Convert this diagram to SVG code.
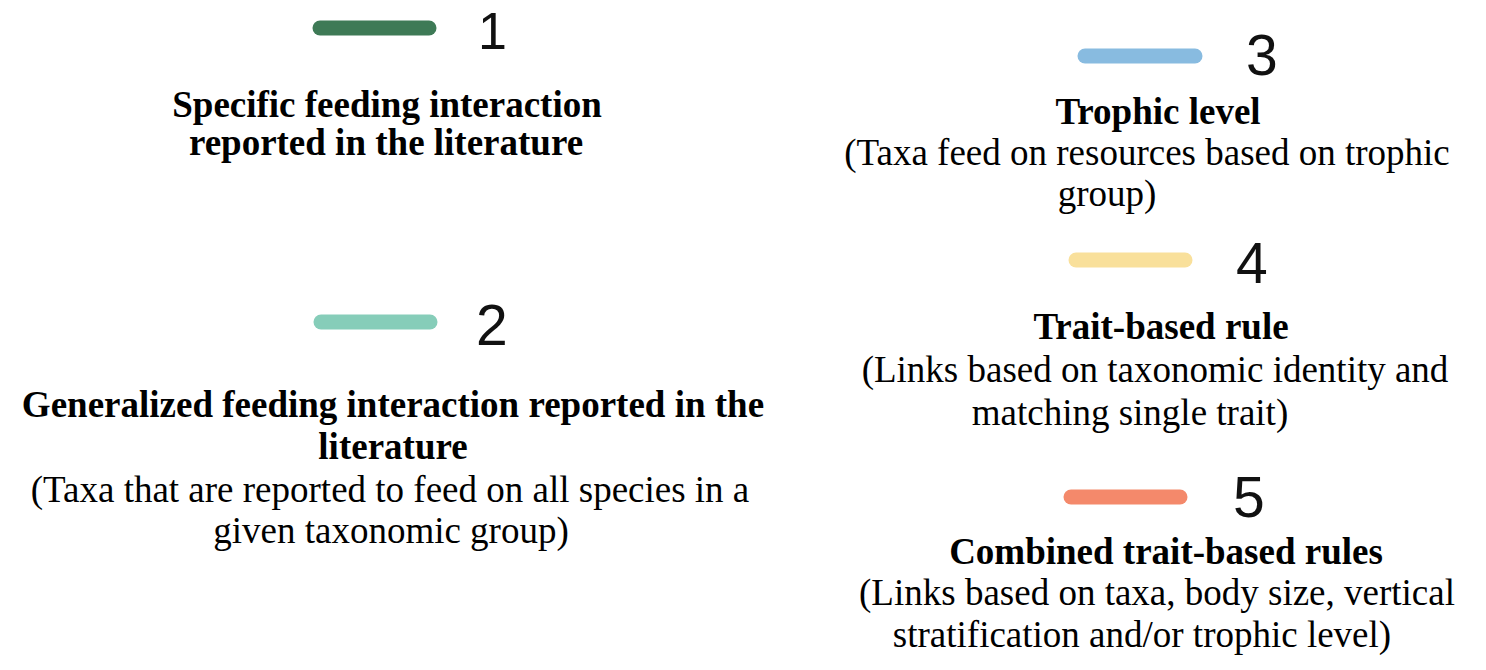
<svg xmlns="http://www.w3.org/2000/svg" width="1486" height="670" viewBox="0 0 1486 670">
<style>
.sw{stroke-width:15;stroke-linecap:round;fill:none}
.num{font-family:"Liberation Sans",Arial,sans-serif;font-size:57px;fill:#111}
.t{font-family:"Liberation Serif","Times New Roman",serif;font-size:37px;fill:#000;text-anchor:middle}
.b{font-weight:bold}
</style>
<rect width="1486" height="670" fill="#fff"/>
<g id="item1">
<line class="sw" x1="320" y1="28" x2="429" y2="28" stroke="#3e7a56"/>
<text class="num" x="478" y="49" style="font-size:52px">1</text>
<text class="t b" x="387" y="117">Specific feeding interaction</text>
<text class="t b" x="386" y="155">reported in the literature</text>
</g>
<g id="item2">
<line class="sw" x1="321" y1="322" x2="430" y2="322" stroke="#86cdb9"/>
<text class="num" x="476" y="345">2</text>
<text class="t b" x="393" y="417">Generalized feeding interaction reported in the</text>
<text class="t b" x="393" y="459">literature</text>
<text class="t" x="390" y="502">(Taxa that are reported to feed on all species in a</text>
<text class="t" x="391" y="543">given taxonomic group)</text>
</g>
<g id="item3">
<line class="sw" x1="1085" y1="56" x2="1195" y2="56" stroke="#88bbe0"/>
<text class="num" x="1246" y="75">3</text>
<text class="t b" x="1158" y="124">Trophic level</text>
<text class="t" x="1147" y="165">(Taxa feed on resources based on trophic</text>
<text class="t" x="1107" y="206">group)</text>
</g>
<g id="item4">
<line class="sw" x1="1076" y1="260" x2="1185" y2="260" stroke="#f9e09b"/>
<text class="num" x="1236" y="283">4</text>
<text class="t b" x="1161" y="339">Trait-based rule</text>
<text class="t" x="1155" y="382">(Links based on taxonomic identity and</text>
<text class="t" x="1130" y="425">matching single trait)</text>
</g>
<g id="item5">
<line class="sw" x1="1071" y1="497" x2="1180" y2="497" stroke="#f4896b"/>
<text class="num" x="1233" y="517">5</text>
<text class="t b" x="1166" y="564">Combined trait-based rules</text>
<text class="t" x="1157" y="605">(Links based on taxa, body size, vertical</text>
<text class="t" x="1142" y="647">stratification and/or trophic level)</text>
</g>
</svg>
